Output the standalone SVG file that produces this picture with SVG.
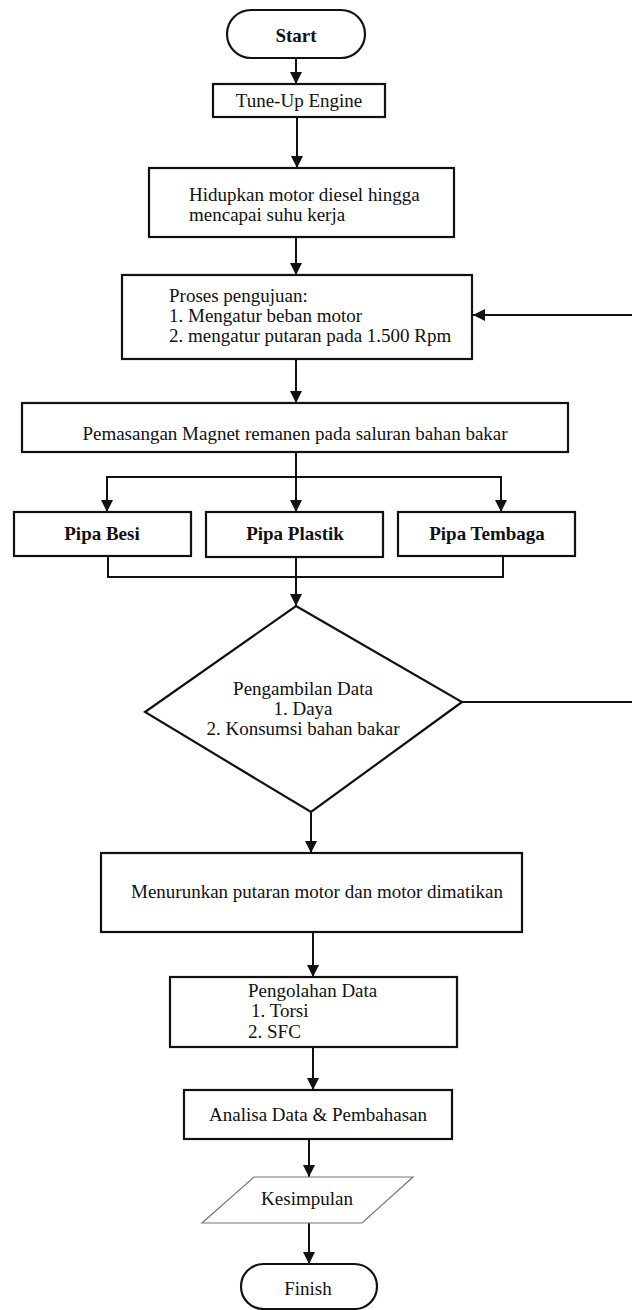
<svg xmlns="http://www.w3.org/2000/svg" width="632" height="1310" viewBox="0 0 632 1310">
<defs>
<marker id="ah" markerUnits="userSpaceOnUse" markerWidth="12" markerHeight="12" viewBox="0 0 12 12" refX="12" refY="6" orient="auto">
<path d="M0,0 L12,6 L0,12 Z" fill="#111"/>
</marker>
<style>
.box{fill:#fff;stroke:#111;stroke-width:2.2}
.thin{fill:#fff;stroke:#777;stroke-width:1.2}
.ln{fill:none;stroke:#111;stroke-width:2}
.t{font-family:"Liberation Serif","Times New Roman",serif;font-size:19px;fill:#111}
.b{font-weight:bold}
.c{text-anchor:middle}
</style>
</defs>
<rect width="632" height="1310" fill="#fff"/>
<g id="connectors">
<line class="ln" x1="296" y1="58" x2="296" y2="84" marker-end="url(#ah)"/>
<line class="ln" x1="297" y1="117" x2="297" y2="168" marker-end="url(#ah)"/>
<line class="ln" x1="296" y1="237" x2="296" y2="275" marker-end="url(#ah)"/>
<line class="ln" x1="296" y1="359" x2="296" y2="403" marker-end="url(#ah)"/>
<polyline class="ln" points="296,452 296,477"/>
<polyline class="ln" points="107,512 107,477 501,477 501,512"/>
<line class="ln" x1="107" y1="490" x2="107" y2="512" marker-end="url(#ah)"/>
<line class="ln" x1="296" y1="477" x2="296" y2="512" marker-end="url(#ah)"/>
<line class="ln" x1="501" y1="490" x2="501" y2="512" marker-end="url(#ah)"/>
<polyline class="ln" points="108,556 108,577 503,577 503,556"/>
<line class="ln" x1="296" y1="557" x2="296" y2="606" marker-end="url(#ah)"/>
<line class="ln" x1="632" y1="315" x2="473" y2="315" marker-end="url(#ah)"/>
<line class="ln" x1="462" y1="702" x2="632" y2="702"/>
<line class="ln" x1="311" y1="812" x2="311" y2="853" marker-end="url(#ah)"/>
<line class="ln" x1="313" y1="932" x2="313" y2="977" marker-end="url(#ah)"/>
<line class="ln" x1="313" y1="1047" x2="313" y2="1090" marker-end="url(#ah)"/>
<line class="ln" x1="309" y1="1139" x2="309" y2="1177" marker-end="url(#ah)"/>
<line class="ln" x1="309" y1="1223" x2="309" y2="1264" marker-end="url(#ah)"/>
</g>
<g id="start">
<rect class="box" x="227" y="10" width="138" height="48" rx="24"/>
<text class="t b c" x="296" y="42">Start</text>
</g>
<g id="tuneup">
<rect class="box" x="213" y="84" width="172" height="33"/>
<text class="t c" x="299" y="107">Tune-Up Engine</text>
</g>
<g id="hidupkan">
<rect class="box" x="149" y="168" width="305" height="69"/>
<text class="t" x="189" y="201">Hidupkan motor diesel hingga</text>
<text class="t" x="189" y="221">mencapai suhu kerja</text>
</g>
<g id="proses">
<rect class="box" x="122" y="275" width="350" height="84"/>
<text class="t" x="169" y="302">Proses pengujuan:</text>
<text class="t" x="169" y="322">1. Mengatur beban motor</text>
<text class="t" x="169" y="342">2. mengatur putaran pada 1.500 Rpm</text>
</g>
<g id="pemasangan">
<rect class="box" x="22" y="403" width="546" height="49"/>
<text class="t c" x="295" y="440">Pemasangan Magnet remanen pada saluran bahan bakar</text>
</g>
<g id="pipabesi">
<rect class="box" x="14" y="512" width="177" height="44"/>
<text class="t b c" x="102" y="540">Pipa Besi</text>
</g>
<g id="pipaplastik">
<rect class="box" x="206" y="512" width="177" height="45"/>
<text class="t b c" x="295" y="540">Pipa Plastik</text>
</g>
<g id="pipatembaga">
<rect class="box" x="398" y="512" width="177" height="44"/>
<text class="t b c" x="487" y="540">Pipa Tembaga</text>
</g>
<g id="pengambilan">
<polygon class="box" points="296,606 462,702 311,812 145,712"/>
<text class="t c" x="303" y="695">Pengambilan Data</text>
<text class="t c" x="303" y="715">1. Daya</text>
<text class="t c" x="303" y="735">2. Konsumsi bahan bakar</text>
</g>
<g id="menurunkan">
<rect class="box" x="101" y="853" width="421" height="79"/>
<text class="t c" x="317" y="898">Menurunkan putaran motor dan motor dimatikan</text>
</g>
<g id="pengolahan">
<rect class="box" x="170" y="977" width="287" height="70"/>
<text class="t" x="248" y="997">Pengolahan Data</text>
<text class="t" x="251" y="1017">1. Torsi</text>
<text class="t" x="248" y="1038">2. SFC</text>
</g>
<g id="analisa">
<rect class="box" x="184" y="1090" width="268" height="49"/>
<text class="t c" x="318" y="1121">Analisa Data &amp; Pembahasan</text>
</g>
<g id="kesimpulan">
<polygon class="thin" points="254,1177 413,1177 362,1223 202,1223"/>
<text class="t c" x="307" y="1205">Kesimpulan</text>
</g>
<g id="finish">
<rect class="box" x="241" y="1264" width="136" height="45" rx="22.5"/>
<text class="t c" x="308" y="1295">Finish</text>
</g>
</svg>
